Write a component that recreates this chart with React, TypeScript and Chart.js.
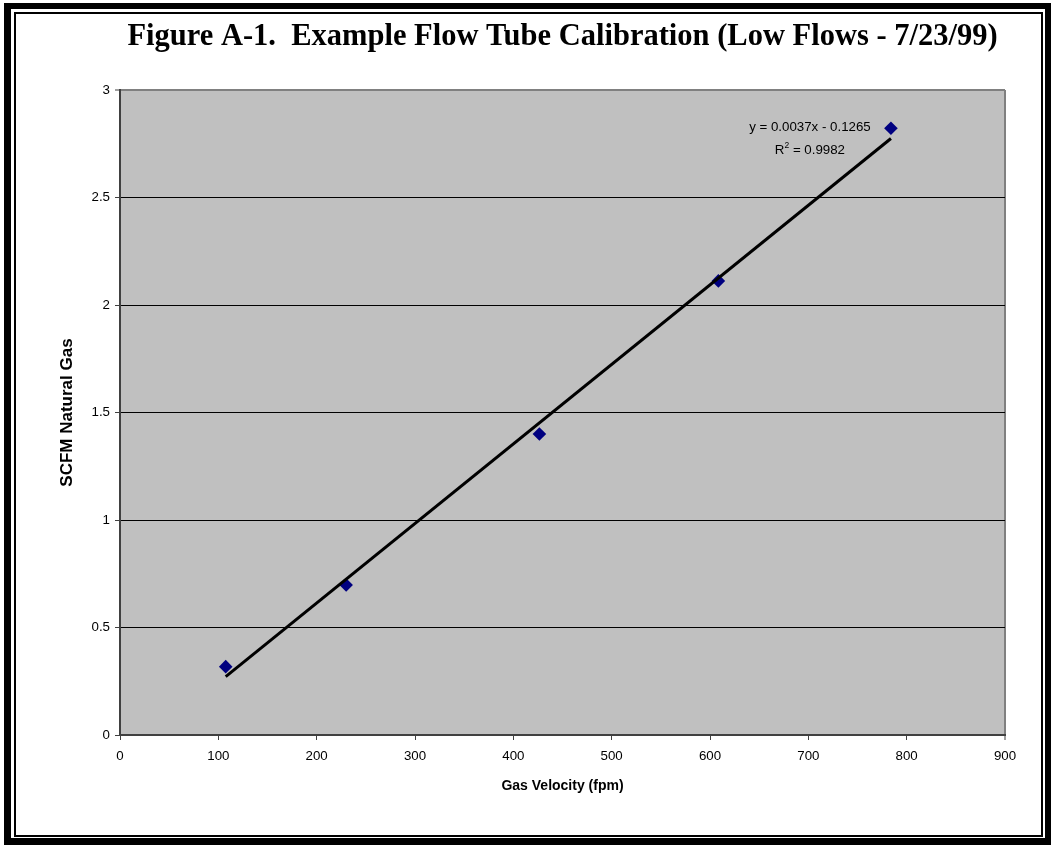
import React, { useEffect, useRef } from "react";
import { Chart, registerables } from "chart.js";

Chart.register(...registerables);

// ---- Data ----
const velocity = [107.5, 230, 426.5, 608.5, 784];
const scfm = [0.318, 0.698, 1.4, 2.112, 2.822];
const xTickValues = [0, 100, 200, 300, 400, 500, 600, 700, 800, 900];
const yTickValues = [0, 0.5, 1, 1.5, 2, 2.5, 3];
const trendSlope = 0.0037;
const trendIntercept = -0.1265;
const equationText = "y = 0.0037x - 0.1265";
const rSquaredText = "0.9982";
const titleText = "Figure A-1.  Example Flow Tube Calibration (Low Flows - 7/23/99)";
const xTitle = "Gas Velocity (fpm)";
const yTitle = "SCFM Natural Gas";

const SANS = '"Liberation Sans", Arial, sans-serif';
const SERIF = '"Liberation Serif", "Times New Roman", serif';
const TICK_SIZE = 13.3;

const xMin = Math.min(...velocity);
const xMax = Math.max(...velocity);
const trendData = [
  { x: xMin, y: trendSlope * xMin + trendIntercept },
  { x: xMax, y: trendSlope * xMax + trendIntercept },
];
const pointData = velocity.map((v, i) => ({ x: v, y: scfm[i] }));

const plotBackground = {
  id: "plotBackground",
  beforeDraw(chart: any) {
    const { ctx, chartArea } = chart;
    ctx.save();
    ctx.fillStyle = "#C0C0C0";
    ctx.fillRect(chartArea.left, chartArea.top, chartArea.right - chartArea.left, chartArea.bottom - chartArea.top);
    ctx.restore();
  },
};

const equationPlugin = {
  id: "equationLabel",
  afterDatasetsDraw(chart: any) {
    const meta = chart.getDatasetMeta(1);
    const last = meta.data[meta.data.length - 1];
    if (!last) return;
    const px = last.x;
    const py = last.y;
    const ctx = chart.ctx;
    ctx.save();
    ctx.fillStyle = "#000";
    const mainFont = `${TICK_SIZE}px ${SANS}`;
    const supFont = `8.5px ${SANS}`;
    ctx.font = mainFont;
    ctx.textBaseline = "alphabetic";
    ctx.textAlign = "center";
    const cx = px - 81;
    ctx.fillText(equationText, cx, py + 2.5);

    ctx.textAlign = "left";
    const r = "R";
    const rest = " = " + rSquaredText;
    const w1 = ctx.measureText(r).width;
    const w3 = ctx.measureText(rest).width;
    ctx.font = supFont;
    const w2 = ctx.measureText("2").width;
    let x = cx - (w1 + w2 + w3) / 2;
    const by = py + 25.7;
    ctx.font = mainFont;
    ctx.fillText(r, x, by);
    x += w1;
    ctx.font = supFont;
    ctx.fillText("2", x, by - 5.5);
    x += w2;
    ctx.font = mainFont;
    ctx.fillText(rest, x, by);
    ctx.restore();
  },
};

export default function App() {
  const ref = useRef<HTMLCanvasElement>(null);

  useEffect(() => {
    if (!ref.current) return;
    const chart = new Chart(ref.current, {
      type: "scatter",
      data: {
        datasets: [
          {
            type: "line",
            label: "Linear trend",
            data: trendData,
            borderColor: "#000",
            borderWidth: 3,
            pointRadius: 0,
            fill: false,
            order: 0,
          } as any,
          {
            type: "scatter",
            label: "SCFM",
            data: pointData,
            pointStyle: "rectRot",
            pointRadius: 6.8,
            backgroundColor: "#000080",
            borderColor: "#000080",
            borderWidth: 0,
            order: 1,
          } as any,
        ],
      },
      plugins: [plotBackground, equationPlugin],
      options: {
        responsive: false,
        maintainAspectRatio: false,
        devicePixelRatio: 1,
        animation: false,
        events: [],
        layout: { padding: { left: 20, right: 46, top: 0, bottom: 30 } },
        plugins: {
          legend: { display: false },
          tooltip: { enabled: false },
          title: {
            display: true,
            text: titleText,
            fullSize: false,
            color: "#000",
            font: { family: SERIF, size: 30.5, weight: "bold" },
            padding: { top: 19, bottom: 34.4 },
          },
        },
        scales: {
          x: {
            type: "linear",
            min: 0,
            max: 900,
            afterBuildTicks: (s: any) => {
              s.ticks = xTickValues.map((v) => ({ value: v }));
            },
            afterFit: (s: any) => {
              s.height = 80;
            },
            ticks: {
              color: "#000",
              font: { family: SANS, size: TICK_SIZE },
              padding: 8,
              maxRotation: 0,
              autoSkip: false,
            },
            grid: {
              drawOnChartArea: true,
              drawTicks: true,
              tickLength: 5,
              tickWidth: 1,
              tickColor: "#404040",
              color: (c: any) => (c.tick && c.tick.value === 900 ? "#808080" : "rgba(0,0,0,0)"),
              lineWidth: (c: any) => (c.tick && c.tick.value === 900 ? 2 : 1),
            },
            border: { display: true, color: "#404040", width: 2 },
            title: {
              display: true,
              text: xTitle,
              color: "#000",
              font: { family: SANS, size: 14, weight: "bold" },
              padding: { top: 0, bottom: 20.6 },
            },
          },
          y: {
            type: "linear",
            min: 0,
            max: 3,
            afterBuildTicks: (s: any) => {
              s.ticks = yTickValues.map((v) => ({ value: v }));
            },
            afterFit: (s: any) => {
              s.width = 100;
            },
            ticks: {
              color: "#000",
              font: { family: SANS, size: TICK_SIZE },
              padding: 5,
              callback: (v: any) => String(v),
            },
            grid: {
              drawOnChartArea: true,
              drawTicks: true,
              tickLength: 5,
              tickWidth: 1,
              tickColor: "#404040",
              color: (c: any) => (c.tick && c.tick.value === 3 ? "#808080" : "#000"),
              lineWidth: (c: any) => (c.tick && c.tick.value === 3 ? 2 : 1),
            },
            border: { display: true, color: "#404040", width: 2 },
            title: {
              display: true,
              text: yTitle,
              color: "#000",
              font: { family: SANS, size: 17, weight: "bold" },
              padding: { top: 37.5, bottom: 0 },
            },
          },
        },
      },
    } as any);
    return () => chart.destroy();
  }, []);

  return (
    <div style={{ position: "absolute", left: 0, top: 0, width: 1051, height: 845, background: "#fff", overflow: "hidden" }}>
      <canvas ref={ref} width={1051} height={845} style={{ position: "absolute", left: 0, top: 0, width: 1051, height: 845 }} />
      <div
        style={{
          position: "absolute",
          left: 4,
          top: 3,
          width: 1047,
          height: 842,
          boxSizing: "border-box",
          borderStyle: "solid",
          borderColor: "#000",
          borderWidth: "6px 6px 7px 7px",
          pointerEvents: "none",
        }}
      />
      <div
        style={{
          position: "absolute",
          left: 14,
          top: 12,
          width: 1029,
          height: 825,
          boxSizing: "border-box",
          border: "2px solid #000",
          pointerEvents: "none",
        }}
      />
    </div>
  );
}
